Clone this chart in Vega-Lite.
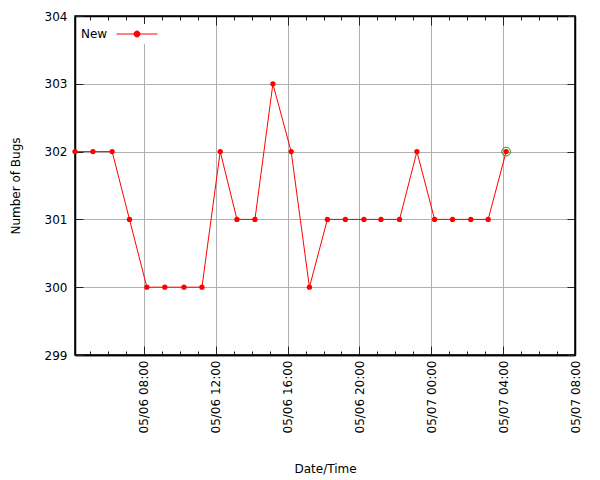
{
  "$schema": "https://vega.github.io/schema/vega-lite/v6.json",
  "width": 500,
  "height": 339,
  "autosize": {"type": "none"},
  "padding": {"left": 75, "top": 16, "right": 25, "bottom": 125},
  "config": {
    "font": "DejaVu Sans",
    "view": {"stroke": "#000000", "strokeWidth": 1.5},
    "axis": {
      "labelFont": "DejaVu Sans",
      "labelFontSize": 12,
      "labelColor": "#000000",
      "titleFont": "DejaVu Sans",
      "titleFontSize": 12,
      "titleFontWeight": "normal",
      "titleColor": "#000000",
      "domainColor": "#000000",
      "domainWidth": 1.5,
      "tickColor": "#222222",
      "tickWidth": 1,
      "gridColor": "#b0b0b0",
      "gridWidth": 1
    }
  },
  "data": {
    "values": [
      {"time": "2024-05-06T04:10:00Z", "bugs": 302},
      {"time": "2024-05-06T05:10:00Z", "bugs": 302},
      {"time": "2024-05-06T06:14:00Z", "bugs": 302},
      {"time": "2024-05-06T07:12:00Z", "bugs": 301},
      {"time": "2024-05-06T08:10:00Z", "bugs": 300},
      {"time": "2024-05-06T09:10:00Z", "bugs": 300},
      {"time": "2024-05-06T10:14:00Z", "bugs": 300},
      {"time": "2024-05-06T11:14:00Z", "bugs": 300},
      {"time": "2024-05-06T12:15:00Z", "bugs": 302},
      {"time": "2024-05-06T13:11:00Z", "bugs": 301},
      {"time": "2024-05-06T14:11:00Z", "bugs": 301},
      {"time": "2024-05-06T15:11:00Z", "bugs": 303},
      {"time": "2024-05-06T16:12:00Z", "bugs": 302},
      {"time": "2024-05-06T17:13:00Z", "bugs": 300},
      {"time": "2024-05-06T18:13:00Z", "bugs": 301},
      {"time": "2024-05-06T19:13:00Z", "bugs": 301},
      {"time": "2024-05-06T20:15:00Z", "bugs": 301},
      {"time": "2024-05-06T21:12:00Z", "bugs": 301},
      {"time": "2024-05-06T22:14:00Z", "bugs": 301},
      {"time": "2024-05-06T23:12:00Z", "bugs": 302},
      {"time": "2024-05-07T00:11:00Z", "bugs": 301},
      {"time": "2024-05-07T01:11:00Z", "bugs": 301},
      {"time": "2024-05-07T02:12:00Z", "bugs": 301},
      {"time": "2024-05-07T03:10:00Z", "bugs": 301},
      {"time": "2024-05-07T04:10:00Z", "bugs": 302}
    ]
  },
  "resolve": {"axis": {"x": "independent", "y": "independent"}},
  "layer": [
    {
      "mark": {"type": "line", "color": "#ff0000", "strokeWidth": 1},
      "encoding": {
        "x": {
          "field": "time",
          "type": "temporal",
          "title": "Date/Time",
          "scale": {
            "type": "utc",
            "nice": false,
            "domain": ["2024-05-06T04:10:00Z", "2024-05-07T08:00:00Z"]
          },
          "axis": {
            "orient": "bottom",
            "values": [1714982400000, 1714996800000, 1715011200000, 1715025600000, 1715040000000, 1715054400000, 1715068800000],
            "labelExpr": "utcFormat(datum.value, '%m/%d %H:%M')",
            "labelAngle": 270,
            "labelAlign": "right",
            "labelBaseline": "middle",
            "labelPadding": 14,
            "labelOverlap": false,
            "labelFlush": false,
            "tickSize": -9,
            "grid": true,
            "titlePadding": 31
          }
        },
        "y": {
          "field": "bugs",
          "type": "quantitative",
          "title": "Number of Bugs",
          "scale": {"domain": [299, 304], "nice": false, "zero": false},
          "axis": {
            "orient": "left",
            "values": [299, 300, 301, 302, 303, 304],
            "format": "d",
            "tickSize": -8,
            "labelPadding": 16,
            "grid": true,
            "titlePadding": 22
          }
        },
        "color": {
          "datum": "New",
          "scale": {"range": ["#ff0000"]},
          "legend": {
            "orient": "none",
            "legendX": 2,
            "legendY": 8,
            "title": "New",
            "titleOrient": "left",
            "titleAnchor": "middle",
            "titleFontSize": 12,
            "titleFontWeight": "normal",
            "titleColor": "#000000",
            "titlePadding": 23,
            "titleBaseline": "middle",
            "labelExpr": "'\u00a0\u00a0'",
            "labelFontSize": 12,
            "labelOffset": 10,
            "symbolType": "M-4.1,0H4.1M-0.6,0A0.6,0.6 0 1,0 0.6,0A0.6,0.6 0 1,0 -0.6,0",
            "symbolSize": 100,
            "symbolStrokeWidth": 1,
            "symbolFillColor": "#ff0000",
            "symbolStrokeColor": "#ff0000",
            "fillColor": "#ffffff",
            "padding": 4
          }
        }
      }
    },
    {
      "mark": {"type": "point", "filled": true, "size": 28, "opacity": 1, "color": "#ff0000"},
      "encoding": {
        "x": {
          "field": "time",
          "type": "temporal",
          "axis": {
            "orient": "top",
            "title": null,
            "labels": false,
            "grid": false,
            "values": [1714971600000, 1714975200000, 1714978800000, 1714982400000, 1714986000000, 1714989600000, 1714993200000, 1714996800000, 1715000400000, 1715004000000, 1715007600000, 1715011200000, 1715014800000, 1715018400000, 1715022000000, 1715025600000, 1715029200000, 1715032800000, 1715036400000, 1715040000000, 1715043600000, 1715047200000, 1715050800000, 1715054400000, 1715058000000, 1715061600000, 1715065200000, 1715068800000],
            "tickSize": {"condition": {"test": "utchours(datum.value) % 4 == 0", "value": -9}, "value": -4}
          }
        },
        "y": {
          "field": "bugs",
          "type": "quantitative",
          "axis": {
            "orient": "right",
            "title": null,
            "labels": false,
            "grid": false,
            "values": [299, 300, 301, 302, 303, 304],
            "tickSize": -8
          }
        },
        "color": {"datum": "New"}
      }
    },
    {
      "transform": [
        {"window": [{"op": "row_number", "as": "rank"}], "sort": [{"field": "time", "order": "descending"}]},
        {"filter": "datum.rank == 1"}
      ],
      "mark": {"type": "point", "filled": false, "size": 75, "strokeWidth": 1, "color": "#1a8c1a", "opacity": 1},
      "encoding": {
        "x": {
          "field": "time",
          "type": "temporal",
          "axis": {
            "orient": "bottom",
            "title": null,
            "labels": false,
            "grid": false,
            "values": [1714971600000, 1714975200000, 1714978800000, 1714982400000, 1714986000000, 1714989600000, 1714993200000, 1714996800000, 1715000400000, 1715004000000, 1715007600000, 1715011200000, 1715014800000, 1715018400000, 1715022000000, 1715025600000, 1715029200000, 1715032800000, 1715036400000, 1715040000000, 1715043600000, 1715047200000, 1715050800000, 1715054400000, 1715058000000, 1715061600000, 1715065200000, 1715068800000],
            "tickSize": -4
          }
        },
        "y": {"field": "bugs", "type": "quantitative", "axis": null}
      }
    }
  ]
}
